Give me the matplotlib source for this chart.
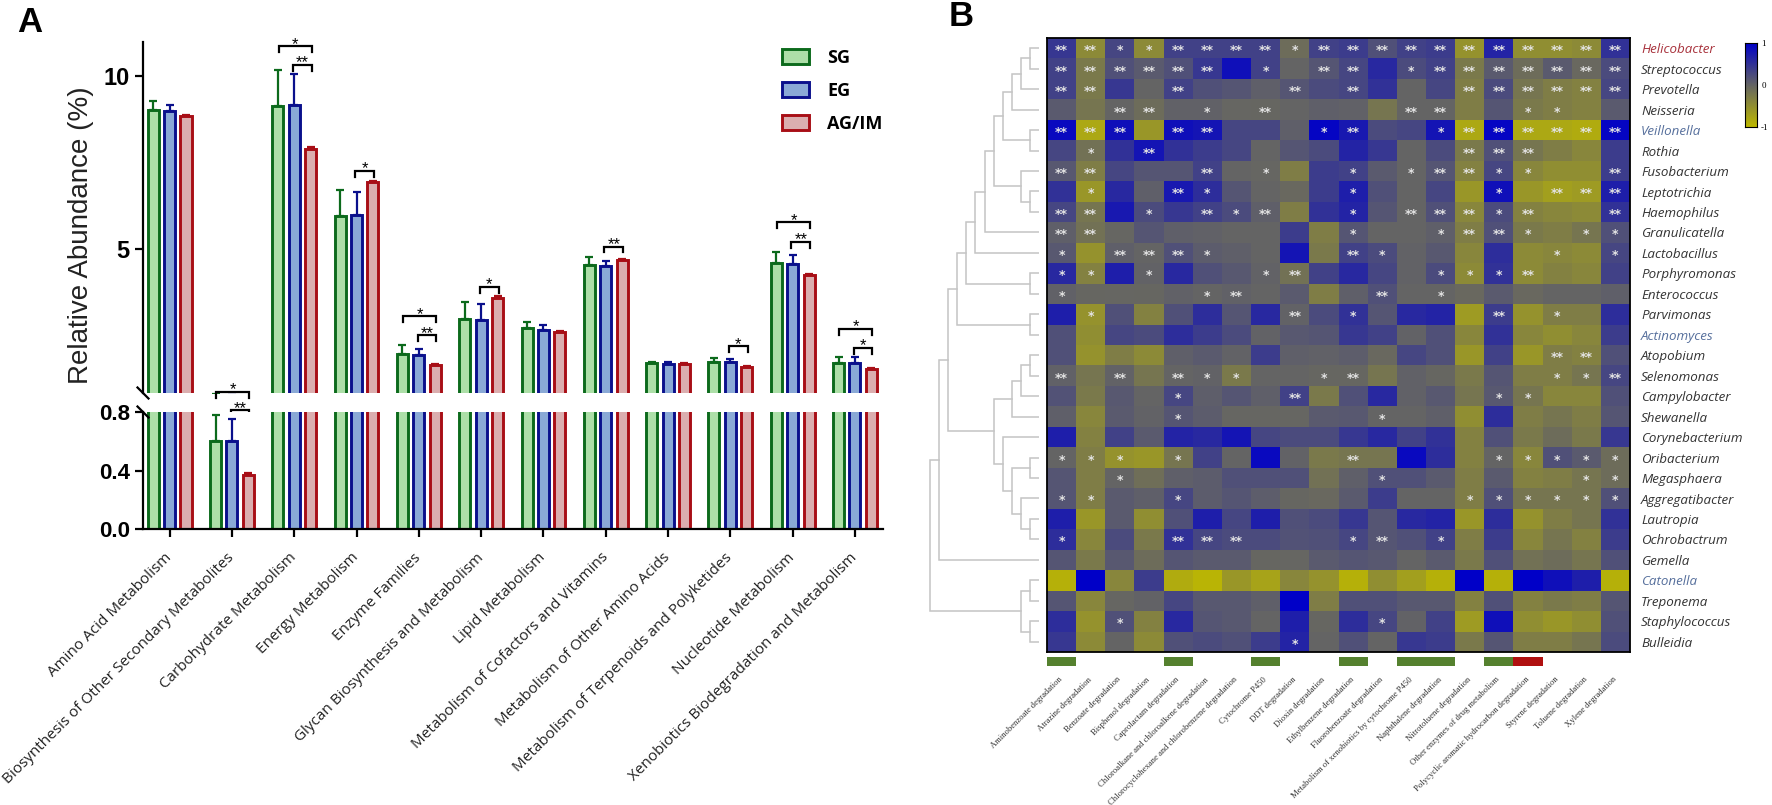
import matplotlib
matplotlib.use("Agg")
import matplotlib.pyplot as plt
import numpy as np
from matplotlib.colors import LinearSegmentedColormap
from matplotlib.patches import Rectangle

W, H = 1772, 805

############################### Panel A data
pathways = ["Amino Acid Metabolism", "Biosynthesis of Other Secondary Metabolites",
            "Carbohydrate Metabolism", "Energy Metabolism", "Enzyme Families",
            "Glycan Biosynthesis and Metabolism", "Lipid Metabolism",
            "Metabolism of Cofactors and Vitamins", "Metabolism of Other Amino Acids",
            "Metabolism of Terpenoids and Polyketides", "Nucleotide Metabolism",
            "Xenobiotics Biodegradation and Metabolism"]
sg = [9.02, 0.60, 9.15, 5.95, 1.94, 2.97, 2.71, 4.53, 1.67, 1.71, 4.59, 1.69]
eg = [8.99, 0.60, 9.17, 5.98, 1.92, 2.93, 2.65, 4.49, 1.65, 1.70, 4.55, 1.67]
ag = [8.86, 0.37, 7.89, 6.93, 1.61, 3.57, 2.59, 4.68, 1.66, 1.56, 4.24, 1.51]
sg_top = [9.29, 0.78, 10.18, 6.71, 2.19, 3.46, 2.86, 4.76, 1.70, 1.84, 4.89, 1.86]
eg_top = [9.17, 0.75, 10.06, 6.64, 2.10, 3.39, 2.79, 4.65, 1.71, 1.80, 4.82, 1.86]
ag_top = [8.89, 0.38, 7.96, 6.96, 1.64, 3.62, 2.62, 4.71, 1.69, 1.59, 4.27, 1.54]
# group, outer bracket?, level, stars
brackets = [(1, True, 0.84, "*"), (1, False, 0.31, "**"),
            (2, True, 10.87, "*"), (2, False, 10.33, "**"),
            (3, False, 7.26, "*"),
            (4, True, 3.04, "*"), (4, False, 2.49, "**"),
            (5, False, 3.89, "*"), (7, False, 5.06, "**"), (9, False, 2.16, "*"),
            (10, True, 5.77, "*"), (10, False, 5.20, "**"),
            (11, True, 2.67, "*"), (11, False, 2.12, "*")]

############################### Panel B data
genera = ["Helicobacter", "Streptococcus", "Prevotella", "Neisseria", "Veillonella", "Rothia",
          "Fusobacterium", "Leptotrichia", "Haemophilus", "Granulicatella", "Lactobacillus",
          "Porphyromonas", "Enterococcus", "Parvimonas", "Actinomyces", "Atopobium", "Selenomonas",
          "Campylobacter", "Shewanella", "Corynebacterium", "Oribacterium", "Megasphaera",
          "Aggregatibacter", "Lautropia", "Ochrobactrum", "Gemella", "Catonella", "Treponema",
          "Staphylococcus", "Bulleidia"]
genera_red = ["Helicobacter"]
genera_blue = ["Veillonella", "Actinomyces", "Catonella"]
kegg = ["Aminobenzoate degradation", "Atrazine degradation", "Benzoate degradation",
        "Bisphenol degradation", "Caprolactam degradation",
        "Chloroalkane and chloroalkene degradation",
        "Chlorocyclohexane and chlorobenzene degradation", "Cytochrome P450", "DDT degradation",
        "Dioxin degradation", "Ethylbenzene degradation", "Fluorobenzoate degradation",
        "Metabolism of xenobiotics by cytochrome P450", "Naphthalene degradation",
        "Nitrotoluene degradation", "Other enzymes of drug metabolism",
        "Polycyclic aromatic hydrocarbon degradation", "Styrene degradation",
        "Toluene degradation", "Xylene degradation"]
green_cols = [0, 4, 7, 10, 12, 13, 15]
red_cols = [16]
corr = [
    [.45, -.45, .3, -.45, .35, .35, .35, .35, -.1, .35, .4, .2, .35, .4, -.55, .65, -.5, -.5, -.45, .5],
    [.35, -.25, .2, .1, .2, .45, .85, .35, 0, .15, .3, .6, .25, .35, -.25, .1, -.1, .1, -.05, .25],
    [.35, -.25, .45, 0, .35, .2, .15, .05, .15, .25, .3, .5, 0, .3, -.3, .25, -.2, -.3, -.35, .3],
    [.1, -.2, 0, -.1, .03, .03, -.02, -.03, 0, .05, .03, -.2, 0, 0, -.3, .15, -.25, -.3, -.35, .1],
    [.9, -.8, .85, -.6, .85, .8, .3, .3, .05, .95, .75, .25, .3, .8, -.8, .95, -.8, -.8, -.85, .95],
    [.3, -.15, .5, .8, .5, .4, .3, 0, .15, .25, .65, .45, 0, .25, -.25, .2, -.2, -.3, -.4, .4],
    [.12, -.3, .3, .15, .15, .35, 0, -.02, -.3, .4, .35, .1, 0, .15, -.35, .3, -.4, -.5, -.5, .4],
    [.5, -.6, .6, .05, .75, .55, .15, 0, -.05, .4, .7, .2, 0, .3, -.6, .85, -.6, -.7, -.65, .7],
    [.3, -.2, .75, .25, .45, .35, .25, .05, -.3, .5, .65, .15, 0, .2, -.4, .25, -.35, -.4, -.45, .5],
    [.05, -.15, -.02, .15, .05, .03, 0, 0, .4, -.3, .15, 0, 0, .05, -.3, .2, -.25, -.3, -.2, .2],
    [.12, -.55, .05, 0, .2, .08, .05, 0, .8, -.25, .35, .25, .02, .12, -.4, .55, -.45, -.4, -.45, .3],
    [.6, -.35, .7, .02, .6, .2, .12, .02, -.15, .35, .6, .3, .02, .25, -.45, .5, -.45, -.35, -.4, .35],
    [.03, -.03, -.02, -.03, .03, 0, .03, 0, .1, -.3, .05, .2, 0, 0, -.05, .1, -.05, 0, 0, .05],
    [.7, -.55, .2, -.35, .2, .55, .15, .6, .02, .25, .5, .15, .6, .65, -.65, .4, -.55, -.3, -.3, .55],
    [.2, -.5, .3, .25, .55, .4, .25, .02, .12, .15, .45, .35, .02, .2, -.4, .5, -.4, -.5, -.4, .4],
    [.2, -.55, -.3, -.45, .05, .1, .02, .4, .05, .03, .07, -.05, .3, .2, -.6, .35, -.6, -.3, -.35, .2],
    [.03, -.2, .02, -.2, 0, .02, -.25, 0, 0, -.03, -.03, -.2, .03, -.03, -.25, .15, -.3, -.3, -.2, .3],
    [.18, -.25, .12, 0, .3, .06, .15, .05, .35, -.25, .2, .6, .03, .12, -.2, .12, -.2, -.4, -.4, .2],
    [.05, -.4, .1, .02, .15, .08, -.02, -.02, -.02, .1, .12, 0, 0, .05, -.5, .55, -.3, -.2, -.3, .15],
    [.7, -.35, .35, .1, .65, .6, .8, .3, .25, .25, .45, .6, .35, .5, -.35, .2, -.25, -.1, -.25, .45],
    [0, -.3, -.55, -.6, -.2, .35, 0, .9, .02, -.25, -.2, -.2, .9, .55, -.35, 0, -.4, .2, .1, -.1],
    [.15, -.3, 0, -.12, .05, .08, .2, .2, .2, -.15, .05, .2, .2, .1, -.3, .1, -.35, -.3, -.2, -.1],
    [.15, -.3, .1, .05, .3, .08, .15, .07, -.03, -.05, .1, .4, 0, 0, -.3, .2, -.2, -.2, -.2, .2],
    [.7, -.6, .1, -.5, .2, .7, .3, .7, .2, .25, .45, .15, .6, .65, -.6, .55, -.55, -.3, -.2, .5],
    [.55, -.4, .25, -.25, .5, .3, .25, .25, .18, .2, .3, .15, .2, .35, -.3, .4, -.4, -.2, -.35, .4],
    [.15, -.25, .12, -.1, .15, .1, .1, -.03, -.02, .1, .15, .12, 0, .1, -.25, .2, -.15, -.1, -.2, .2],
    [-.9, 1, -.4, .4, -.85, -.95, -.6, -.75, -.4, -.55, -.9, -.5, -.7, -.9, 1, -.9, 1, .85, .7, -.9],
    [.15, -.4, -.02, .02, .3, .12, .12, .05, 1, -.3, .2, .2, .12, .12, -.35, .2, -.35, -.25, -.3, .15],
    [.55, -.55, .2, -.35, .6, .15, .12, 0, .7, -.03, .55, .3, .02, .35, -.65, .85, -.5, -.6, -.5, .2],
    [.45, -.45, 0, -.45, .2, .25, .2, .4, .65, 0, .2, 0, .45, .4, -.25, .15, -.3, -.3, -.2, .25],
]
stars = [
    "22112222122222222222", "22222201022012222222", "22002000202000222222",
    "00220102000022001100", "22202200012001222222", "01020000000000222000",
    "22000201001012211002", "01002100001000010222", "22010212001022212002",
    "22000000001001221011", "10222100002100000101", "11010001200001112000",
    "10000120000201000000", "01000000201000020100", "00000000000000000000",
    "00000000000000000220", "20202110012000000112", "00001000200000011000",
    "00001000000100000000", "00000000000000000000", "11101000002000011111",
    "00100000000100000011", "11001000000000111111", "00000000000000000000",
    "10002220001201000000", "00000000000000000000", "00000000000000000000",
    "00000000000000000000", "00100000000100000000", "00000000100000000000",
]
# dendrogram, (level, child, child) with rows as leaves
tree = (12,
        (11,
         (10,
          (9,
           (8,
            (7,
             (6,
              (5,
               (4,
                (3, (2, (1, 0, 1), 2), 3),
                (1, 4, 5)),
               (2, 6, (1, 7, 8))),
              9),
             10),
            (1, 11, 12)),
           (1, 13, 14)),
          (5,
           (3, (2, (1, 15, 16), 17), 18),
           (4, 19, (3, (1, 20, 21), (2, 22, (1, 23, 24)))))),
         25),
        (2, (1, 26, 27), (1, 28, 29)))


# axes from pixel box of the figure
def boite(x0, y0, x1, y1):
    return fig.add_axes([x0 / W, 1 - y1 / H, (x1 - x0) / W, (y1 - y0) / H])


def dessine_arbre(ax, node):
    # returns the (x, y) where the parent link ends
    if not isinstance(node, tuple):
        return 0, node
    level, a, b = node
    xa, ya = dessine_arbre(ax, a)
    xb, yb = dessine_arbre(ax, b)
    ax.plot([xa, level, level, xb], [ya, ya, yb, yb], color="#c4c4c4", lw=1.1, solid_joinstyle="miter")
    return level, (ya + yb) / 2


fig = plt.figure(figsize=(W / 100, H / 100), dpi=100)
plt.rcParams["font.family"] = "Liberation Sans"

################################ Panel A
top = boite(143, 42, 883, 393)
low = boite(143, 412, 883, 529)
x = np.arange(len(pathways))
series = [(sg, sg_top, "SG", "#addfa8", "#0c6a1c"), (eg, eg_top, "EG", "#8aa9d6", "#0a108c"),
          (ag, ag_top, "AG/IM", "#dbaeaf", "#a80e16")]
for ax in (top, low):
    for k, (vals, tops, name, fill, edge) in enumerate(series):
        xk = x + (k - 1) * 0.263
        ax.bar(xk, vals, 0.177, color=fill, edgecolor=edge, linewidth=2.1, label=name)
        ax.errorbar(xk, vals, yerr=[np.zeros(len(vals)), np.array(tops) - np.array(vals)], fmt="none",
                    ecolor=edge, elinewidth=1.6, capsize=2.6, capthick=1.6)
    ax.set_xlim(-0.427, 11.45)
    ax.spines["top"].set_visible(False)
    ax.spines["right"].set_visible(False)
    ax.spines["left"].set_linewidth(1.6)
    ax.tick_params(axis="y", width=1.6, length=6)
top.set_ylim(0.81, 11.0)
low.set_ylim(0, 0.8)
top.set_yticks([5, 10])
top.set_yticklabels(["5", "10"], fontweight="bold", fontsize=17)
low.set_yticks([0, 0.4, 0.8])
low.set_yticklabels(["0.0", "0.4", "0.8"], fontweight="bold", fontsize=16)
top.spines["bottom"].set_visible(False)
top.set_xticks([])
low.spines["bottom"].set_linewidth(1.6)
low.set_xticks(x)
low.set_xticklabels(pathways, rotation=45, ha="right", va="center", rotation_mode="anchor", fontsize=11,
                    family="Open Sans", color="#222222")
low.tick_params(axis="x", width=1.6, length=6, pad=13)
top.set_ylabel("Relative Abundance (%)", fontsize=20, color="#222222")
top.yaxis.set_label_coords(-0.066, 0.45)

# cuts of the y axis
for ax, yc in ((top, 0.0), (low, 1.0)):
    dy = 5.5 / (ax.get_position().height * H)
    dx = 5.5 / (ax.get_position().width * W)
    ax.plot([-dx, dx], [yc + dy, yc - dy], transform=ax.transAxes, color="k", lw=1.6, clip_on=False)

# significance brackets
for g, outer, lev, txt in brackets:
    left = g - 0.25 if outer else g - 0.02
    right = g + 0.28
    hook = 0.17
    top.plot([left, left, right, right], [lev - hook, lev, lev, lev - hook], color="k", lw=1.6,
             clip_on=False, solid_joinstyle="miter")
    top.text((left + right) / 2, lev - 0.16, txt, ha="center", va="bottom", fontsize=12, clip_on=False)

top.legend(loc="upper left", bbox_to_anchor=(0.864, 0.98), frameon=False, handlelength=1.5, handleheight=0.9,
           handletextpad=1.0, labelspacing=0.82, borderpad=0, borderaxespad=0,
           prop={"family": "Open Sans", "weight": "bold", "size": 13})

fig.text(17 / W, 1 - 32 / H, "A", fontsize=25, fontweight="bold", va="baseline")
fig.text(949 / W, 1 - 26 / H, "B", fontsize=25, fontweight="bold", va="baseline")

################################ Panel B
cmap = LinearSegmentedColormap.from_list("jaune_bleu", ["#bdb800", "#646464", "#0000c8"])
hm = boite(1047, 38, 1630, 652)
nrows, ncols = len(genera), len(kegg)
hm.pcolormesh(np.arange(ncols + 1), np.arange(nrows + 1), np.array(corr), cmap=cmap, vmin=-1, vmax=1)
hm.set_xlim(0, ncols)
hm.set_ylim(nrows, 0)
for r, ligne in enumerate(stars):
    for c, n in enumerate(ligne):
        if n != "0":
            hm.text(c + 0.5, r + 0.62, "*" * int(n), color="#e4e4e4", ha="center", va="center",
                    family="DejaVu Sans", fontsize=9, fontweight="bold")
hm.set_xticks(np.arange(ncols) + 0.5)
hm.set_xticklabels(kegg, rotation=45, ha="right", va="center", rotation_mode="anchor", fontsize=6.2,
                   family="Liberation Serif", color="#333333")
hm.tick_params(axis="x", length=0, pad=19)
hm.yaxis.tick_right()
hm.set_yticks(np.arange(nrows) + 0.5)
hm.set_yticklabels(genera, fontsize=9.6, fontstyle="italic", family="Open Sans", color="#333333")
hm.tick_params(axis="y", length=0, pad=8)
for t in hm.get_yticklabels():
    if t.get_text() in genera_red:
        t.set_color("#a8323c")
    if t.get_text() in genera_blue:
        t.set_color("#566f9c")
for s in hm.spines.values():
    s.set_linewidth(1.3)

# small colored boxes under the heatmap
bande = boite(1047, 657, 1630, 666)
bande.set_xlim(0, ncols)
bande.set_ylim(0, 1)
bande.axis("off")
for c in green_cols:
    bande.add_patch(Rectangle((c, 0), 1, 1, color="#55812f", lw=0))
for c in red_cols:
    bande.add_patch(Rectangle((c, 0), 1, 1, color="#b01010", lw=0))

# dendrogram
arbre = boite(931 - 9.1, 38, 1039, 652)
dessine_arbre(arbre, tree)
arbre.set_xlim(12.9, 0)
arbre.set_ylim(nrows - 0.5, -0.5)
arbre.axis("off")

# colour bar
cb = boite(1745, 43, 1757, 127)
cb.imshow(np.linspace(1, -1, 200).reshape(-1, 1), cmap=cmap, vmin=-1, vmax=1, aspect="auto", extent=[0, 1, -1, 1])
cb.set_xticks([])
cb.yaxis.tick_right()
cb.set_yticks([1, 0, -1])
cb.set_yticklabels(["1", "0", "-1"], fontsize=6.5, family="Liberation Serif")
cb.tick_params(axis="y", length=0, pad=3)
for s in cb.spines.values():
    s.set_linewidth(0.8)

fig.savefig("out.png", dpi=100)
